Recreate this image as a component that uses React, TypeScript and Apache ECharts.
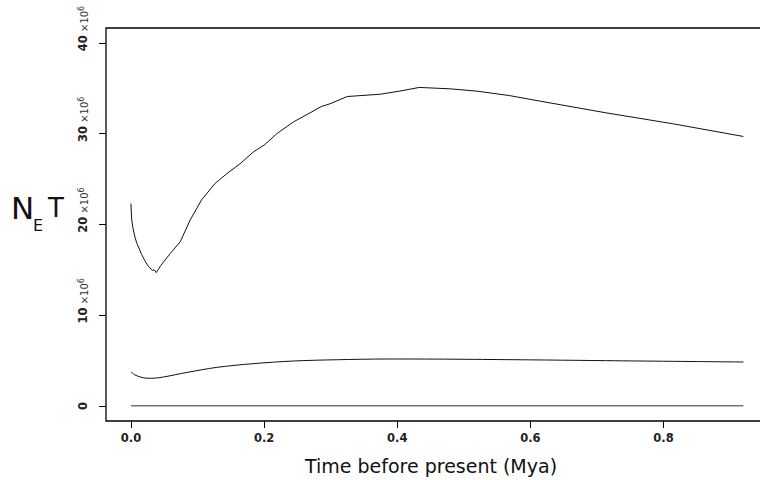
import React, { useEffect, useRef } from 'react';
import * as echarts from 'echarts';

// Upper curve (N_E tau, units of 10^6)
const upperTime = [0, 0.001, 0.003, 0.006, 0.009, 0.012, 0.016, 0.021, 0.026, 0.032, 0.035, 0.038, 0.045, 0.059, 0.074, 0.089, 0.106, 0.126, 0.144, 0.164, 0.184, 0.201, 0.219, 0.244, 0.269, 0.286, 0.299, 0.325, 0.374, 0.404, 0.433, 0.479, 0.519, 0.569, 0.614, 0.714, 0.814, 0.92];
const upperNeT = [22.3, 20.6, 19.6, 18.6, 17.9, 17.4, 16.7, 16.0, 15.4, 14.95, 15.0, 14.7, 15.5, 16.8, 18.1, 20.5, 22.7, 24.5, 25.6, 26.7, 28.0, 28.8, 30.0, 31.3, 32.3, 33.0, 33.3, 34.1, 34.35, 34.7, 35.1, 34.95, 34.7, 34.2, 33.6, 32.3, 31.1, 29.7];

// Middle curve
const middleTime = [0, 0.006, 0.018, 0.031, 0.049, 0.084, 0.129, 0.184, 0.244, 0.309, 0.384, 0.459, 0.55, 0.65, 0.75, 0.85, 0.92];
const middleNeT = [3.78, 3.42, 3.12, 3.05, 3.2, 3.7, 4.26, 4.67, 4.96, 5.1, 5.18, 5.17, 5.12, 5.05, 4.97, 4.9, 4.85];

// Bottom curve
const baseTime = [0, 0.3, 0.6, 0.92];
const baseNeT = [0.03, 0.03, 0.03, 0.03];

const xTicks = [0, 0.2, 0.4, 0.6, 0.8];
const yTicks = [0, 10, 20, 30, 40];

const FONT = 'DejaVu Sans';

export default function App() {
  const ref = useRef<HTMLDivElement>(null);
  useEffect(() => {
    const chart = echarts.init(ref.current as HTMLDivElement, null, { renderer: 'svg' });
    const pair = (xs: number[], ys: number[]) => xs.map((x, i) => [x, ys[i]]);
    chart.setOption({
      animation: false,
      backgroundColor: '#fff',
      grid: {
        left: 106, top: 28, right: -8, bottom: 59,
        show: true, borderColor: '#000', borderWidth: 1.3,
        containLabel: false, outerBoundsMode: 'none',
      },
      xAxis: {
        type: 'value', min: -0.0375, max: 0.957,
        axisLine: { show: false, onZero: false },
        splitLine: { show: false },
        axisTick: { show: true, length: 7, customValues: xTicks, lineStyle: { color: '#000', width: 1 } },
        axisLabel: {
          customValues: xTicks, formatter: (v: number) => v.toFixed(1),
          fontSize: 11.5, fontWeight: 'bold', color: '#222', margin: 11, fontFamily: FONT,
        },
        name: 'Time before present (Mya)', nameLocation: 'middle', nameGap: 35,
        nameTextStyle: { fontSize: 19, fontFamily: FONT, color: '#111', padding: [0, 12, 0, 0] },
      },
      yAxis: {
        type: 'value', min: -1.65, max: 41.65,
        axisLine: { show: false, onZero: false },
        splitLine: { show: false },
        axisTick: { show: true, length: 7, customValues: yTicks, lineStyle: { color: '#000', width: 1 } },
        axisLabel: {
          customValues: yTicks, rotate: 90, margin: 17,
          formatter: (v: number) => (v === 0 ? '{n|0}' : `{p| }{n|${v}}{x| ×10}{s|6}`),
          rich: {
            p: { width: 29, fontSize: 11.5, fontFamily: FONT },
            n: { fontSize: 11.5, fontWeight: 'bold', fontFamily: FONT, color: '#222' },
            x: { fontSize: 10, fontFamily: FONT, color: '#333', verticalAlign: 'bottom' },
            s: { fontSize: 8, fontFamily: FONT, color: '#333', verticalAlign: 'top' },
          },
        },
      },
      graphic: [
        { type: 'text', left: 11, top: 192, style: { text: 'N', font: `31px "${FONT}"`, fill: '#111' } },
        { type: 'text', left: 33, top: 217, style: { text: 'E', font: `16px "${FONT}"`, fill: '#111' } },
        { type: 'text', left: 48, top: 195, style: { text: 'T', font: `26px "${FONT}"`, fill: '#111' } },
      ],
      series: [
        { type: 'line', data: pair(upperTime, upperNeT), showSymbol: false, symbol: 'none', lineStyle: { color: '#111', width: 1 }, silent: true },
        { type: 'line', data: pair(middleTime, middleNeT), showSymbol: false, symbol: 'none', smooth: 0.3, lineStyle: { color: '#111', width: 1 }, silent: true },
        { type: 'line', data: pair(baseTime, baseNeT), showSymbol: false, symbol: 'none', lineStyle: { color: '#777', width: 1.5 }, silent: true },
      ],
    });
    return () => chart.dispose();
  }, []);
  return <div ref={ref} style={{ position: 'fixed', left: 0, top: 0, width: 760, height: 480, background: '#fff' }} />;
}
